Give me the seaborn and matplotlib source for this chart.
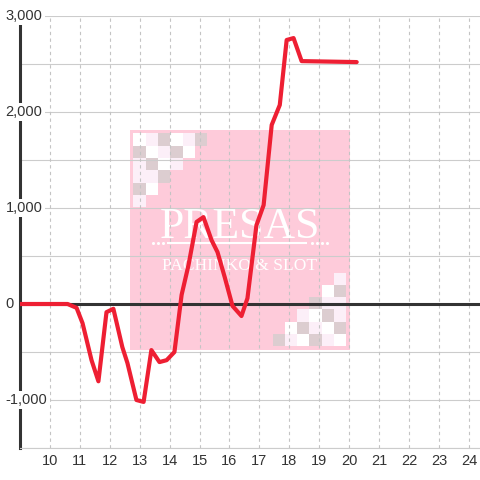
import matplotlib
matplotlib.use("Agg")
import matplotlib.pyplot as plt
from matplotlib.patches import Rectangle
import seaborn as sns
import pandas as pd

# ---- data ----
hours = [9.0, 10.59, 10.89, 11.09, 11.39, 11.62, 11.89, 12.12, 12.42, 12.59,
         12.89, 13.13, 13.39, 13.66, 13.90, 14.16, 14.40, 14.63, 14.90, 15.13,
         15.40, 15.60, 15.84, 16.10, 16.40, 16.60, 16.90, 17.14, 17.41, 17.68,
         17.91, 18.14, 18.41, 20.25]
balance = [0, 0, -40, -200, -585, -805, -85, -50, -450, -615,
           -1000, -1020, -480, -605, -585, -500, 95, 405, 855, 905,
           665, 540, 280, -20, -125, 60, 820, 1030, 1865, 2073,
           2750, 2770, 2530, 2520]
x_ticks = list(range(10, 25))
y_label_values = [3000, 2000, 1000, 0, -1000]
y_grid_values = [3000, 2500, 2000, 1500, 1000, 500, 0, -500, -1000, -1500]

df = pd.DataFrame({"hour": hours, "balance": balance})

sns.set_theme(style="white")
plt.rcParams["font.family"] = ["Liberation Sans", "DejaVu Sans"]

fig = plt.figure(figsize=(4.8, 4.8), dpi=100, facecolor="white")

# ---- watermark (behind the chart) ----
wm = fig.add_axes([130/480, 130/480, 220/480, 220/480], zorder=0)
wm.set_xlim(0, 220)
wm.set_ylim(220, 0)
wm.axis("off")
wm.add_patch(Rectangle((0, 0), 220, 220, facecolor="#FECBDA", edgecolor="none"))
W, L, G = "#FFFFFF", "#FCEFF8", "#DCCDD0"
pattern = [[W, L, G, W, L, G],
           [G, W, L, G, W],
           [L, G, W, L],
           [L, L, G],
           [G, W],
           [L]]
s = 12.3
for r, row in enumerate(pattern):
    for c, col in enumerate(row):
        wm.add_patch(Rectangle((3.3 + c*s, 3.3 + r*s), s, s, facecolor=col, edgecolor="none"))
        wm.add_patch(Rectangle((216.3 - (c+1)*s, 216.3 - (r+1)*s), s, s, facecolor=col, edgecolor="none"))
wm.text(110, 108, "PRESAS", ha="center", va="baseline", color="white",
        fontsize=31.5, family="Liberation Serif")
wm.plot([37, 177], [112.7, 112.7], color="white", lw=1.5, solid_capstyle="butt")
for dx in [23, 28, 33, 182, 187, 192, 197]:
    wm.plot([dx], [112.7], marker="o", ms=2.2, color="white", mec="none")
wm.text(110, 140, "PACHINKO & SLOT", ha="center", va="baseline", color="white",
        fontsize=12.6, family="Liberation Serif")

# ---- main chart ----
ax = fig.add_axes([20/480, 32/480, 460/480, 432/480], zorder=1)
ax.set_facecolor("none")
ax.set_axisbelow(True)

sns.lineplot(data=df, x="hour", y="balance", ax=ax, color="#EE1F33", lw=3.0, zorder=3)

ax.set_xlim(9.0, 24.37)
ax.set_ylim(-1500, 3000)
ax.set_xticks(x_ticks)
ax.set_xticklabels([str(t) for t in x_ticks])
ax.set_yticks(y_grid_values)
ax.set_yticklabels([])
ax.set_xlabel("")
ax.set_ylabel("")

ax.grid(False)
for v in y_grid_values:
    ax.axhline(v, color="#CCCCCC", lw=0.8, zorder=0.5)
ax.xaxis.grid(True, color="#C4C4C4", lw=0.8, linestyle=(0, (3, 3)))
ax.axhline(0, color="#333333", lw=2.2, zorder=2)

for sp in ["top", "right"]:
    ax.spines[sp].set_visible(False)
ax.spines["bottom"].set_color("#CCCCCC")
ax.spines["bottom"].set_linewidth(0.8)
ax.spines["left"].set_color("#333333")
ax.spines["left"].set_linewidth(2.2)

ax.tick_params(axis="x", length=0, pad=4, labelsize=10.5, labelcolor="#333333")
ax.tick_params(axis="y", length=0)

for v in y_label_values:
    ax.text(-0.031, v, f"{v:,}", transform=ax.get_yaxis_transform(), ha="left",
            va="center", fontsize=10.5, color="#333333", zorder=5, clip_on=False,
            bbox=dict(facecolor="white", edgecolor="none", pad=1.5))

fig.savefig("out.png", dpi=100, facecolor="white")
